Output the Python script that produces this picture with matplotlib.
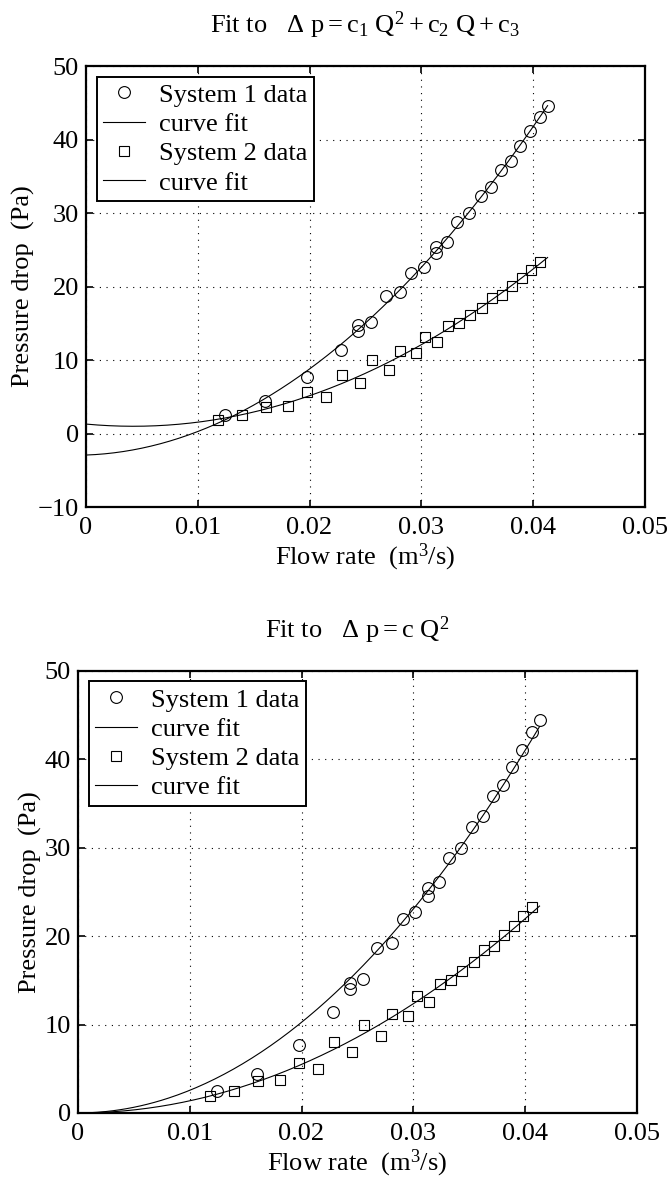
"""Pressure drop vs flow rate for two systems, with quadratic fits."""

import matplotlib

matplotlib.use("Agg")
import matplotlib.pyplot as plt
import numpy as np

plt.rcParams["font.family"] = ["Liberation Serif", "DejaVu Serif"]
plt.rcParams["mathtext.fontset"] = "custom"
plt.rcParams["mathtext.rm"] = "Liberation Serif"
plt.rcParams["mathtext.it"] = "Liberation Serif"
plt.rcParams["font.size"] = 19

# flow rate (m^3/s) and pressure drop (Pa)
q_sys1 = np.array([0.0124, 0.0160, 0.0198, 0.0228, 0.0243, 0.0243, 0.0255, 0.0268,
                   0.0281, 0.0291, 0.0302, 0.0313, 0.0313, 0.0323, 0.0332, 0.0343,
                   0.0353, 0.0362, 0.0371, 0.0380, 0.0388, 0.0397, 0.0406, 0.0413])
dp_sys1 = np.array([2.5, 4.4, 7.7, 11.4, 14.7, 14.0, 15.2, 18.7,
                    19.2, 21.9, 22.7, 25.4, 24.5, 26.1, 28.8, 30.0,
                    32.3, 33.6, 35.8, 37.1, 39.1, 41.1, 43.1, 44.5])

q_sys2 = np.array([0.0118, 0.0140, 0.0161, 0.0181, 0.0198, 0.0215, 0.0229, 0.0245,
                   0.0256, 0.0271, 0.0281, 0.0295, 0.0303, 0.0314, 0.0324, 0.0334,
                   0.0344, 0.0354, 0.0363, 0.0372, 0.0381, 0.0390, 0.0398, 0.0406])
dp_sys2 = np.array([1.9, 2.5, 3.6, 3.7, 5.6, 5.0, 8.0, 6.9,
                    10.0, 8.7, 11.2, 11.0, 13.2, 12.5, 14.6, 15.0,
                    16.1, 17.1, 18.4, 18.9, 20.1, 21.1, 22.3, 23.3])

x_ticks = [0, 0.01, 0.02, 0.03, 0.04, 0.05]
x_ticklabels = ["0", "0.01", "0.02", "0.03", "0.04", "0.05"]
labels = ["System 1 data", "curve fit", "System 2 data", "curve fit"]


def style_axes(ax, yticks):
    ax.set_xlim(0, 0.05)
    ax.set_ylim(yticks[0], yticks[-1])
    ax.set_xticks(x_ticks, x_ticklabels)
    ax.set_yticks(yticks)
    ax.tick_params(direction="in", length=5, width=1.2, top=True, right=True)
    ax.tick_params(axis="x", pad=7)
    ax.tick_params(axis="y", pad=5)
    for spine in ax.spines.values():
        spine.set_linewidth(1.6)
    ax.grid(True, color="black", linestyle=(0, (1, 5)), linewidth=0.8)
    ax.set_xlabel(r"Flow rate  (m$^3$/s)", labelpad=2)
    ax.set_ylabel("Pressure drop  (Pa)", labelpad=2)


def draw_panel(ax, fit_fn, title, yticks):
    q_fit = np.linspace(0, q_sys1.max(), 200)
    ax.plot(q_sys1, dp_sys1, "o", ms=8.5, mfc="none", mec="black", mew=0.8)
    ax.plot(q_fit, fit_fn(q_sys1, dp_sys1)(q_fit), color="black", lw=0.8)
    ax.plot(q_sys2, dp_sys2, "s", ms=6.5, mfc="none", mec="black", mew=0.8)
    ax.plot(q_fit, fit_fn(q_sys2, dp_sys2)(q_fit), color="black", lw=0.8)
    style_axes(ax, yticks)
    ax.set_title(title, pad=24, fontsize=19)
    leg = ax.legend(labels, loc="upper left", fancybox=False, framealpha=1,
                    edgecolor="black", borderaxespad=0.4, borderpad=0.25,
                    labelspacing=0.22, handlelength=1.6, handletextpad=0.5)
    leg.get_frame().set_linewidth(1.4)


def quad_fit(q, dp):
    return np.poly1d(np.polyfit(q, dp, 2))


def origin_fit(q, dp):
    c = np.sum(q**2 * dp) / np.sum(q**4)
    return lambda x: c * x**2


def main():
    fig = plt.figure(figsize=(6.7, 11.86), dpi=100)
    ax_top = fig.add_axes([0.1284, 0.5725, 0.834, 0.3718])
    ax_bot = fig.add_axes([0.1164, 0.0616, 0.834, 0.3727])

    draw_panel(ax_top, quad_fit,
               r"Fit to   $\mathrm{\Delta\ p = c_1\ Q^2 + c_2\ Q + c_3}$",
               [-10, 0, 10, 20, 30, 40, 50])
    draw_panel(ax_bot, origin_fit,
               r"Fit to   $\mathrm{\Delta\ p = c\ Q^2}$",
               [0, 10, 20, 30, 40, 50])

    fig.savefig("out.png", dpi=100)


if __name__ == "__main__":
    main()
